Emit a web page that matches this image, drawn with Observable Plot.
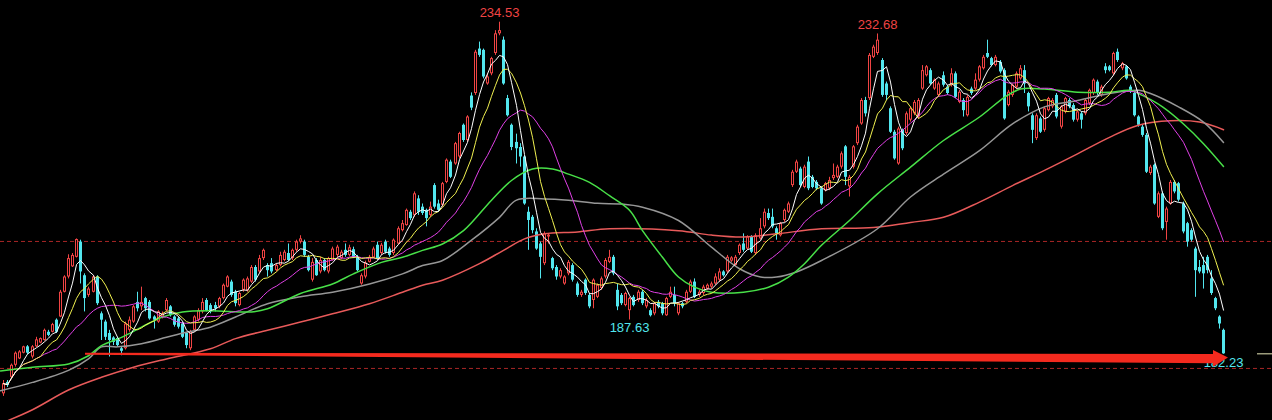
<!DOCTYPE html>
<html><head><meta charset="utf-8">
<script src="https://cdn.jsdelivr.net/npm/d3@7"></script>
<script src="https://cdn.jsdelivr.net/npm/@observablehq/plot@0.6"></script>
<style>
html,body{margin:0;padding:0;background:#000;}
#chart{width:1272px;height:420px;overflow:hidden;}
</style></head><body><div id="chart"></div>
<script>
// ---- daily OHLC, 301 sessions ----
const opens = [
176.0,177.8,178.6,180.5,181.5,182.4,183.4,181.8,183.4,184.0,
184.4,185.7,185.7,187.6,188.1,192.0,194.4,196.0,197.5,199.9,
194.6,191.5,192.0,194.4,188.6,187.3,185.5,184.8,184.7,183.1,
183.1,186.0,187.3,190.4,189.7,191.0,190.4,188.1,187.3,188.1,
189.1,189.7,188.1,187.8,187.0,185.5,183.1,186.0,187.6,188.9,
190.7,189.9,
189.9,189.7,191.0,192.8,193.6,192.0,189.9,192.3,192.2,193.6,
195.9,195.2,197.3,196.2,196.5,195.4,196.2,197.0,198.1,197.3,
198.6,199.9,199.9,197.5,193.9,197.0,195.2,197.0,195.2,197.0,
197.8,197.3,198.6,197.8,198.7,197.5,193.3,194.4,196.7,197.4,
199.4,198.1,199.9,198.8,198.1,199.6,201.7,202.5,204.6,204.1,
206.7,
205.4,204.9,204.1,208.8,205.9,205.7,209.3,212.5,212.2,213.3,
218.3,215.9,222.9,223.3,230.3,230.1,224.8,226.4,229.6,232.7,
231.7,222.5,218.3,215.6,214.8,213.3,204.6,203.8,201.5,199.6,
196.5,200.7,197.3,195.9,194.4,193.3,194.9,196.2,193.3,191.5,
193.9,191.5,190.7,191.2,192.6,194.4,196.7,197.5,
192.3,191.5,189.9,189.1,191.2,190.7,192.0,189.7,189.1,188.6,
190.4,190.2,188.3,191.2,191.5,188.6,190.2,190.4,192.0,193.6,
191.5,191.8,192.5,192.8,193.3,193.9,195.2,195.2,196.9,196.2,
198.1,199.6,198.8,200.7,198.1,200.4,202.3,204.4,203.8,202.0,
200.9,203.3,204.6,208.8,210.9,211.4,208.5,212.5,210.1,209.3,
208.3,208.0,208.3,209.9,210.1,211.7,214.9,208.6,211.7,215.4,
218.5,222.2,222.5,229.0,229.6,228.5,224.8,220.9,217.2,212.2,
217.5,217.0,219.1,220.1,219.6,224.0,226.1,226.9,224.0,223.0,
226.1,224.3,224.6,226.4,221.9,222.2,219.8,224.0,224.0,225.4,
227.2,229.6,228.8,227.7,228.2,226.9,
221.4,223.0,224.3,225.6,226.9,223.3,219.8,216.2,219.3,217.5,
220.6,221.2,223.0,218.0,220.4,222.2,221.4,219.1,220.1,220.1,
221.7,223.3,225.1,223.0,227.5,227.5,226.4,229.8,227.2,227.5,
224.3,223.3,219.6,218.0,216.7,210.7,212.0,203.8,207.5,203.0,
205.9,209.3,209.1,205.9,202.8,201.7,198.8,195.9,196.2,197.5,
194.1,191.0,188.1,186.0
];
const closes = [
177.6,177.3,180.5,182.4,182.6,183.4,182.4,183.4,184.5,184.7,
186.0,185.2,186.9,185.7,192.0,194.4,197.3,197.8,200.3,195.2,
191.0,192.5,194.4,190.2,187.6,184.9,184.4,184.1,183.6,182.7,
187.0,187.6,189.7,189.4,190.4,189.4,187.8,187.6,188.9,188.6,
190.7,188.3,186.8,186.5,184.9,183.6,185.7,188.1,189.1,190.4,
189.1,188.9,
189.4,191.0,193.1,194.4,191.5,190.2,191.8,193.9,194.1,195.9,
193.9,197.3,198.6,195.4,195.2,196.2,197.8,198.3,197.0,198.6,
199.9,200.4,197.8,195.4,196.7,194.6,197.0,195.4,197.3,198.8,
199.1,198.3,197.8,199.0,197.4,195.4,194.6,196.6,197.5,198.8,
197.3,199.4,198.3,197.8,200.2,202.0,202.8,204.9,203.6,207.5,
204.6,
204.4,203.6,205.4,205.4,204.9,209.1,212.8,210.1,215.4,217.0,
215.9,219.6,221.0,229.8,229.3,225.9,225.9,228.8,232.7,233.2,
224.8,219.8,214.8,214.6,213.3,205.9,203.3,201.7,198.8,197.5,
201.2,201.0,195.7,194.4,195.4,194.4,196.7,193.9,191.5,192.0,
191.8,189.7,193.9,193.1,194.1,197.0,197.5,194.9,
189.7,190.2,191.8,191.0,189.9,192.0,190.2,190.7,188.3,190.2,
189.7,188.6,191.0,192.0,190.2,190.2,189.7,192.0,193.6,191.2,
192.0,192.8,193.1,193.3,194.4,195.2,194.6,197.5,197.4,197.5,
199.4,198.6,200.7,198.3,200.9,202.0,204.6,203.6,202.3,201.2,
202.8,204.9,205.9,210.9,212.5,208.8,211.7,208.3,208.5,208.3,
205.9,209.1,209.6,210.4,211.7,213.8,210.1,210.1,214.9,218.0,
222.2,220.1,229.3,230.6,231.7,223.0,223.0,217.2,213.0,217.7,
214.6,220.1,220.9,221.9,222.2,226.9,227.5,224.8,225.4,224.8,
224.6,223.3,226.4,222.7,223.5,220.6,222.7,223.3,225.4,227.5,
229.0,229.0,227.7,229.0,226.7,219.3,
223.5,224.6,226.4,227.2,224.8,221.2,217.5,219.8,217.2,220.9,
222.5,222.2,219.6,221.2,222.5,221.2,219.1,220.4,219.1,222.2,
223.8,225.4,223.3,224.3,226.9,226.9,229.6,228.5,228.0,225.6,
223.5,219.8,218.3,216.7,210.9,211.7,205.9,207.5,202.0,205.1,
209.3,207.8,206.5,201.5,199.9,200.2,195.4,195.2,194.9,195.4,
191.8,189.4,187.0,182.3
];
const highs = [
178.1,178.1,180.7,182.6,182.8,183.5,183.6,183.6,184.9,184.8,
186.2,186.0,187.1,187.8,192.3,194.6,197.9,198.1,200.4,200.2,
194.9,192.8,194.6,194.6,188.9,187.6,186.0,185.0,184.9,183.4,
187.3,188.1,189.9,192.0,192.8,191.2,190.7,188.3,189.1,188.9,
191.0,189.9,188.3,188.1,187.3,185.7,186.0,188.3,189.4,191.0,
191.0,190.2,
190.4,191.2,193.3,194.6,193.9,192.3,192.0,194.1,194.4,196.2,
196.2,197.8,198.8,196.5,197.3,196.5,198.3,198.6,199.6,198.8,
200.2,200.9,200.2,197.8,197.3,197.3,197.5,197.3,197.5,199.1,
199.4,198.6,199.6,199.4,199.1,197.8,194.9,196.9,197.8,199.1,
199.9,199.7,200.2,199.1,200.4,202.3,203.3,205.1,204.9,207.8,
207.2,
205.9,205.1,206.2,209.1,206.5,209.3,213.0,212.8,215.6,217.2,
218.5,219.8,223.4,230.1,231.4,230.3,226.4,229.0,233.2,234.53,
232.2,223.0,218.5,216.9,215.4,213.5,205.4,204.1,202.0,199.9,
201.5,201.2,197.5,196.2,195.7,194.6,197.0,196.5,193.6,192.3,
194.1,191.8,194.1,193.3,194.4,197.3,198.6,197.8,
193.3,191.8,192.0,191.2,191.5,192.3,192.3,191.0,189.4,190.4,
190.7,190.4,191.2,192.8,192.8,190.4,190.4,192.3,193.9,194.1,
192.3,193.1,193.3,193.6,194.9,195.7,195.4,197.8,197.6,197.8,
199.6,201.2,200.9,200.9,201.2,203.6,205.1,205.1,205.1,202.3,
203.0,205.1,206.2,211.2,212.8,211.7,212.0,213.3,210.4,209.6,
208.6,209.3,210.1,212.2,212.0,214.1,215.1,210.4,215.1,218.3,
222.5,222.7,229.6,230.9,232.68,228.8,225.1,221.2,217.5,218.0,
217.7,220.4,221.2,222.2,222.5,227.7,227.7,227.2,225.6,225.1,
226.7,224.6,227.2,226.7,223.8,222.5,223.0,224.3,226.4,227.7,
229.3,231.7,229.0,229.3,228.5,227.2,
223.8,224.8,226.7,227.7,227.7,223.5,220.1,220.1,219.6,221.2,
222.7,222.5,223.3,221.4,222.7,222.5,221.7,220.6,220.4,222.5,
224.0,225.6,225.4,224.6,228.0,227.7,229.8,230.3,228.2,227.7,
224.6,223.5,219.8,218.3,217.0,212.0,212.2,207.8,207.8,205.4,
209.6,209.6,209.3,206.2,203.0,202.0,199.1,197.0,197.5,197.8,
195.4,191.2,188.3,186.2
];
const lows = [
175.6,177.0,178.4,180.2,181.4,182.3,182.2,181.5,183.3,183.9,
184.3,185.0,185.6,185.5,188.0,191.9,194.1,195.9,197.4,193.3,
188.9,191.2,191.9,189.9,184.4,184.4,181.8,183.6,183.4,182.0,
182.9,185.7,187.1,188.9,189.1,188.9,187.6,186.2,187.1,187.8,
188.9,188.1,186.5,186.2,184.7,183.1,182.8,185.7,187.3,188.6,
188.9,188.6,
188.9,189.4,190.8,192.7,191.2,189.7,189.7,192.0,192.0,193.4,
193.6,195.0,197.0,194.4,194.9,195.2,196.0,196.8,196.8,197.0,
198.3,199.6,197.5,195.2,193.6,194.5,194.9,195.2,194.9,196.9,
197.5,197.1,197.5,197.6,197.3,195.2,193.1,194.1,196.6,197.3,
197.0,197.8,198.0,197.5,197.8,199.4,201.5,202.4,203.3,203.8,
204.1,
204.1,202.3,203.8,205.1,204.6,205.4,209.1,209.9,212.0,213.0,
215.6,215.6,220.6,223.0,229.0,225.6,224.6,226.1,229.3,232.4,
224.6,219.6,214.3,212.2,211.7,205.7,198.6,201.2,198.6,194.1,
196.2,199.6,195.4,193.9,194.1,193.1,194.6,193.6,191.2,191.2,
191.5,189.4,189.4,191.0,192.3,194.1,196.5,194.6,
189.1,189.9,189.7,187.63,189.7,190.4,189.9,189.4,188.1,188.3,
189.4,188.3,188.2,191.0,189.7,188.3,189.4,190.2,191.8,191.0,
191.2,191.5,192.3,192.5,193.1,193.6,194.4,194.9,196.7,196.0,
197.8,198.3,198.6,198.1,197.8,200.2,202.0,203.3,202.0,200.2,
200.7,203.0,204.4,208.5,210.7,208.5,208.3,208.0,208.3,208.0,
205.7,207.8,208.0,209.6,209.9,211.4,208.8,207.0,211.4,215.1,
218.3,219.6,222.2,228.8,229.3,222.7,222.2,217.0,212.8,212.0,
214.3,216.7,218.8,219.8,219.3,223.8,225.9,224.6,223.8,222.7,
224.3,223.0,224.3,222.5,221.7,219.6,219.6,223.0,223.8,225.1,
227.0,228.8,227.5,227.5,226.4,219.1,
221.2,222.7,224.0,225.4,223.3,220.4,215.4,215.9,217.0,217.2,
220.4,220.9,219.3,217.7,220.1,220.9,218.8,218.8,217.7,219.8,
221.4,223.0,223.0,222.7,226.4,226.7,226.1,228.2,226.9,225.4,
223.3,219.6,218.0,216.4,210.7,210.4,205.7,203.6,201.7,200.2,
205.7,207.5,206.2,201.2,199.1,199.9,191.2,194.9,192.5,194.9,
191.5,189.1,186.2,182.23
];

// ---- long moving averages (MA30 green, MA60 grey, MA120 red), read at sample sessions ----
const ma30Idx = [-0.7,7,16,21,24,29,34,39,44,51,61,65,73,81,86,93,98,103,108,113,120,125,130,135,139,144,149,154,157,162,166,170,174,182,188,193,197,201,208,215,223,231,240,246,250,256,264,272,277,280,285,290,295,300];
const ma30Val = [179.6,180.2,180.7,182.0,183.6,184.9,186.5,188.1,188.9,189.1,188.9,189.4,191.8,193.3,194.9,196.7,197.5,198.6,199.6,201.7,206.5,209.6,211.4,211.4,210.6,209.3,207.2,204.9,201.7,197.5,194.4,192.8,192.0,192.0,192.8,194.4,196.5,199.4,203.3,207.5,211.7,215.9,219.6,222.7,224.0,224.0,223.5,223.5,223.8,223.0,221.2,218.5,215.4,211.8];
const ma60Idx = [-0.7,7,16,21,24,28,34,40,45,51,57,65,73,81,90,98,103,108,115,122,126,133,139,146,152,157,166,174,181,186,190,195,201,215,223,231,240,248,256,264,272,279,282,289,295,300];
const ma60Val = [176.5,177.8,179.7,181.5,183.4,183.4,183.9,184.9,185.7,186.5,188.1,190.2,191.3,192.0,193.3,194.9,196.2,197.0,200.2,203.8,206.5,206.7,206.5,206.0,205.9,205.4,203.3,199.1,195.7,194.4,194.4,195.2,197.0,202.0,207.0,210.6,214.3,218.5,221.2,222.2,223.3,223.8,223.3,221.2,218.8,215.6];
const ma120Idx = [-0.7,7,16,24,32,40,51,57,65,73,81,90,98,103,108,117,123,128,133,141,149,166,174,182,190,201,214,223,231,240,248,256,264,272,279,287,294,300];
const ma120Val = [171.3,173.5,176.6,178.6,180.2,181.5,183.1,184.7,186.0,187.3,188.6,190.2,192.0,193.1,193.9,196.5,198.6,200.4,201.2,201.5,202.0,201.7,201.0,200.7,201.2,202.0,202.2,203.0,203.8,206.2,208.8,211.2,213.8,216.4,218.3,219.0,218.8,217.6];

// ---- annotations ----
const guideLevels = [200, 180];
const markIdx = [122, 215, 154, 300];
const markKind = ["high", "high", "low", "low"];
const arrowIdx = [20.15, 297.5, 297.5, 301.3];
const arrowLo  = [182.08, 180.73, 180.19, 181.64];
const arrowHi  = [182.40, 182.19, 182.82, 181.64];

[closes, highs, lows].forEach(a => { if (a.length !== opens.length) throw new Error("length mismatch " + a.length + " vs " + opens.length); });

const candles = opens.map((o, i) => ({i, open: o, close: closes[i], high: highs[i], low: lows[i]}));
const upC = candles.filter(d => d.close >= d.open);
const dnC = candles.filter(d => d.close < d.open);
const toPts = (idx, val) => idx.map((i, k) => ({i, v: val[k]}));
const labels = markIdx.map((i, k) => ({i, kind: markKind[k], p: markKind[k] === "high" ? highs[i] : lows[i]}));
const arrow = arrowIdx.map((i, k) => ({i, lo: arrowLo[k], hi: arrowHi[k]}));
const last = candles[candles.length - 1];

const UP = "#f04444", DN = "#52e6ee";
const FONT = "'Liberation Sans', Arial, sans-serif";
const ma = (k, color) => Plot.lineY(candles, Plot.windowY({k, anchor: "end", reduce: "mean"}, {x: "i", y: "close", stroke: color, strokeWidth: 1}));

const chart = Plot.plot({
  width: 1272, height: 420, margin: 0,
  style: {background: "#000", overflow: "hidden"},
  x: {type: "linear", domain: [-0.75, 312], round: true, axis: null},
  y: {domain: [171.8, 237.95], axis: null},
  marks: [
    Plot.ruleY(guideLevels, {stroke: "#a82626", strokeDasharray: "4,3"}),
    Plot.ruleX(upC, {x: "i", y1: "low", y2: "high", stroke: UP}),
    Plot.ruleX(dnC, {x: "i", y1: "low", y2: "high", stroke: DN}),
    Plot.ruleX(dnC, {x: "i", y1: "open", y2: "close", stroke: DN, strokeWidth: 3}),
    Plot.ruleX(upC, {x: "i", y1: "close", y2: "open", stroke: UP, strokeWidth: 3}),
    Plot.ruleX(upC, {x: "i", y1: "close", y2: "open", stroke: "#000", strokeWidth: 1, insetTop: 1, insetBottom: 1}),
    Plot.line(toPts(ma120Idx, ma120Val), {x: "i", y: "v", stroke: "#e85a5a", curve: "catmull-rom", clip: true}),
    Plot.line(toPts(ma60Idx, ma60Val), {x: "i", y: "v", stroke: "#969696", curve: "catmull-rom"}),
    Plot.line(toPts(ma30Idx, ma30Val), {x: "i", y: "v", stroke: "#48e048", curve: "catmull-rom"}),
    ma(20, "#e040e6"),
    ma(10, "#f0f050"),
    ma(5, "#ffffff"),
    Plot.text(labels.filter(d => d.kind === "high"), {x: "i", y: "p", text: d => d.p.toFixed(2), fill: UP, fontSize: 13, fontFamily: FONT, lineAnchor: "bottom", dy: -5}),
    Plot.text(labels.filter(d => d.kind === "low"), {x: "i", y: "p", text: d => d.p.toFixed(2), fill: DN, fontSize: 13, fontFamily: FONT, lineAnchor: "top", dy: 3}),
    Plot.areaY(arrow, {x: "i", y1: "lo", y2: "hi", fill: "#f42a1e"}),
    Plot.ruleY([last], {y: "close", x1: 308.3, x2: 312, stroke: "#e8e8b8"})
  ]
});
document.getElementById("chart").appendChild(chart);
</script>
</body></html>
